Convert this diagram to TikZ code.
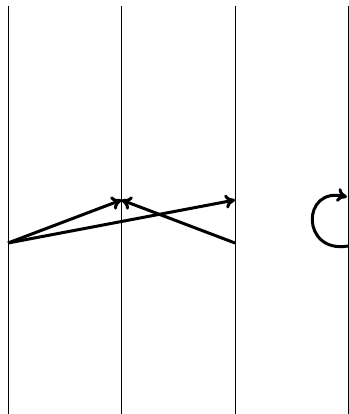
\documentclass[tikz,border=0pt]{standalone}
\usetikzlibrary{calc}
\usetikzlibrary{arrows.meta}

\begin{document}
\begin{tikzpicture}[x=1pt,y=1pt]
\tikzset{lifeline/.style={line width=1pt,black},
  msg/.style={-{To[length=10pt,width=14pt]},line width=3pt,black}}
\def\lifetop{408}
\def\sendy{171}
\def\recvy{214}
\useasboundingbox (0,0) rectangle (348,414);
\foreach \i/\x in {1/8,2/121.5,3/235,4/348} {
  \coordinate (Top\i) at (\x,\lifetop);
  \coordinate (Bot\i) at (\x,0);
  \coordinate (Send\i) at (\x,\sendy);
  \coordinate (Recv\i) at (\x,\recvy);
  \draw[lifeline] (Top\i) -- (Bot\i);
}
\coordinate (LoopOut) at (348,168);
\coordinate (LoopIn) at (347,217);

\draw[msg] (Send1) -- (Recv2);
\draw[msg] (Send1) -- (Recv3);
\draw[msg] (Send3) -- (Recv2);
\draw[msg] (LoopOut) .. controls (301,160) and (301,228) .. (LoopIn);
\end{tikzpicture}
\end{document}
